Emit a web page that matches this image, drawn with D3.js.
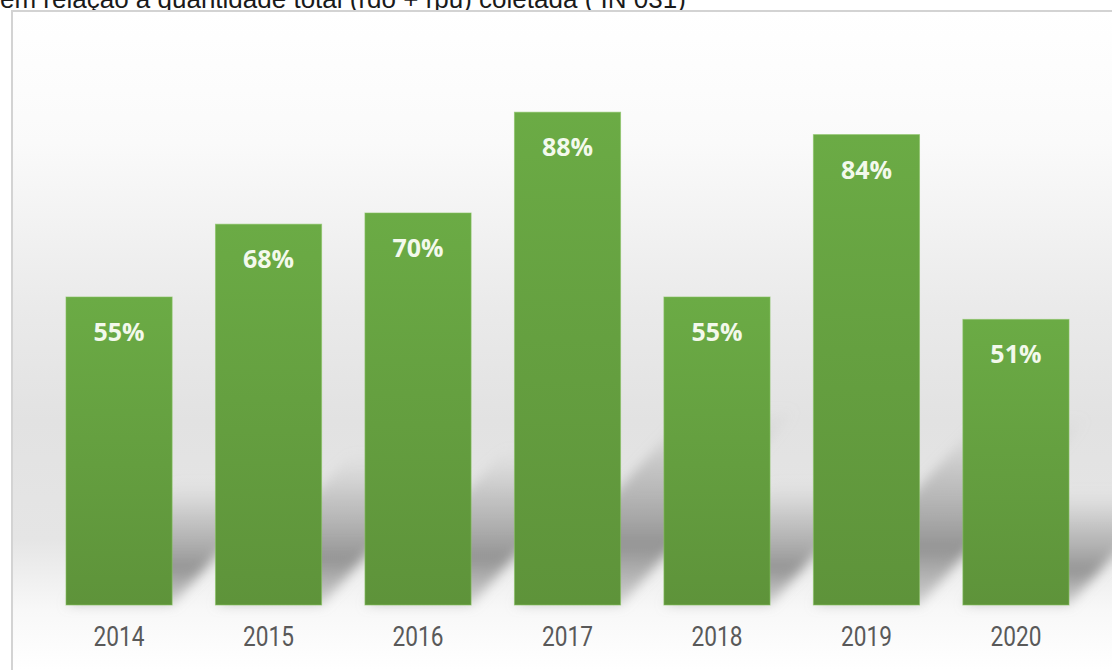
<!DOCTYPE html>
<html>
<head>
<meta charset="utf-8">
<script src="https://cdn.jsdelivr.net/npm/d3@7/dist/d3.min.js"></script>
<style>
  html, body { margin: 0; padding: 0; background: #ffffff; }
  svg { display: block; }
</style>
</head>
<body>
<svg id="chart" width="1112" height="670"></svg>
<script>
// Taxa de recuperação de recicláveis por ano (%)
const years = ["2014", "2015", "2016", "2017", "2018", "2019", "2020"];
const rates = [55, 68, 70, 88, 55, 84, 51];
const titleText = "em relação à quantidade total (rdo + rpu) coletada ( IN 031)";

const W = 1112, H = 670;
const svg = d3.select("#chart");
const defs = svg.append("defs");

// plot-area background: white at the top, soft grey band, pale near the floor
const bg = defs.append("linearGradient").attr("id", "bgGrad")
  .attr("gradientUnits", "userSpaceOnUse")
  .attr("x1", 0).attr("y1", 11).attr("x2", 0).attr("y2", 670);
[[0, "#ffffff"], [0.2, "#fafafa"], [0.45, "#eaeaea"], [0.62, "#e2e2e2"],
 [0.8, "#e5e5e5"], [0.91, "#f8f8f8"], [1, "#ffffff"]]
  .forEach(([o, c]) => bg.append("stop").attr("offset", o).attr("stop-color", c));

// bar fill: lighter green on top, darker at the base
const barGrad = defs.append("linearGradient").attr("id", "barGrad")
  .attr("x1", 0).attr("y1", 0).attr("x2", 0).attr("y2", 1);
barGrad.append("stop").attr("offset", 0).attr("stop-color", "#6bab45");
barGrad.append("stop").attr("offset", 1).attr("stop-color", "#5e933a");

// cast shadow fading away from the bar base
const shGrad = defs.append("linearGradient").attr("id", "shGrad")
  .attr("x1", 0).attr("y1", 1).attr("x2", 0).attr("y2", 0);
shGrad.append("stop").attr("offset", 0).attr("stop-color", "#a5a5a5").attr("stop-opacity", 0.45);
shGrad.append("stop").attr("offset", 0.3).attr("stop-color", "#8f8f8f").attr("stop-opacity", 0.95);
shGrad.append("stop").attr("offset", 0.7).attr("stop-color", "#a5a5a5").attr("stop-opacity", 0.5);
shGrad.append("stop").attr("offset", 1).attr("stop-color", "#bbbbbb").attr("stop-opacity", 0);

const blur = defs.append("filter").attr("id", "soft")
  .attr("x", "-30%").attr("y", "-30%").attr("width", "160%").attr("height", "160%");
blur.append("feGaussianBlur").attr("stdDeviation", 6);

// title line (partly above the top edge)
svg.append("text")
  .attr("x", 0).attr("y", 8)
  .attr("font-family", "Liberation Sans, Arial, sans-serif")
  .attr("font-size", 26)
  .attr("fill", "#1a1a1a")
  .text(titleText);

// chart frame
svg.append("rect")
  .attr("x", 12).attr("y", 11)
  .attr("width", W + 20).attr("height", H + 20)
  .attr("fill", "url(#bgGrad)")
  .attr("stroke", "#d3d3d3").attr("stroke-width", 2);

const x = d3.scaleBand().domain(years).range([66, 1069]).paddingInner(0.29).paddingOuter(0);
const y = d3.scaleLinear().domain([0, 100]).range([605, 45]);

const data = years.map((yr, i) => ({ year: yr, value: rates[i] }));

// shadows cast back and to the right of each bar
svg.append("g").selectAll("path").data(data).join("path")
  .attr("d", d => {
    const x0 = x(d.year), x1 = x0 + x.bandwidth();
    const base = y(0);
    const h = y(0) - y(d.value);
    const dx = h * 0.36, dy = h * 0.4;
    return `M${x0},${base}L${x1},${base}L${x1 + dx},${base - dy}L${x0 + dx},${base - dy}Z`;
  })
  .attr("fill", "url(#shGrad)")
  .attr("filter", "url(#soft)");

// bars
svg.append("g").selectAll("rect").data(data).join("rect")
  .attr("x", d => x(d.year))
  .attr("y", d => y(d.value))
  .attr("width", x.bandwidth())
  .attr("height", d => y(0) - y(d.value))
  .attr("fill", "url(#barGrad)")
  .attr("stroke", "#86c25f").attr("stroke-opacity", 0.6).attr("stroke-width", 1);

// value labels inside the top of each bar
svg.append("g").selectAll("text").data(data).join("text")
  .attr("x", d => x(d.year) + x.bandwidth() / 2)
  .attr("y", d => y(d.value) + 44)
  .attr("text-anchor", "middle")
  .attr("font-family", "Open Sans, sans-serif")
  .attr("font-weight", 700)
  .attr("font-size", 25)
  .attr("fill", "#f3f9ec")
  .text(d => d.value + "%");

// category axis
const xAxis = svg.append("g")
  .attr("transform", `translate(0,${y(0)})`)
  .call(d3.axisBottom(x).tickSize(0).tickPadding(22));
xAxis.select(".domain").remove();
xAxis.selectAll("text")
  .attr("font-family", "Liberation Sans Narrow, Roboto, sans-serif")
  .attr("font-size", 27)
  .attr("fill", "#595959")
  .attr("transform", "scale(0.84,1)");
</script>
</body>
</html>
